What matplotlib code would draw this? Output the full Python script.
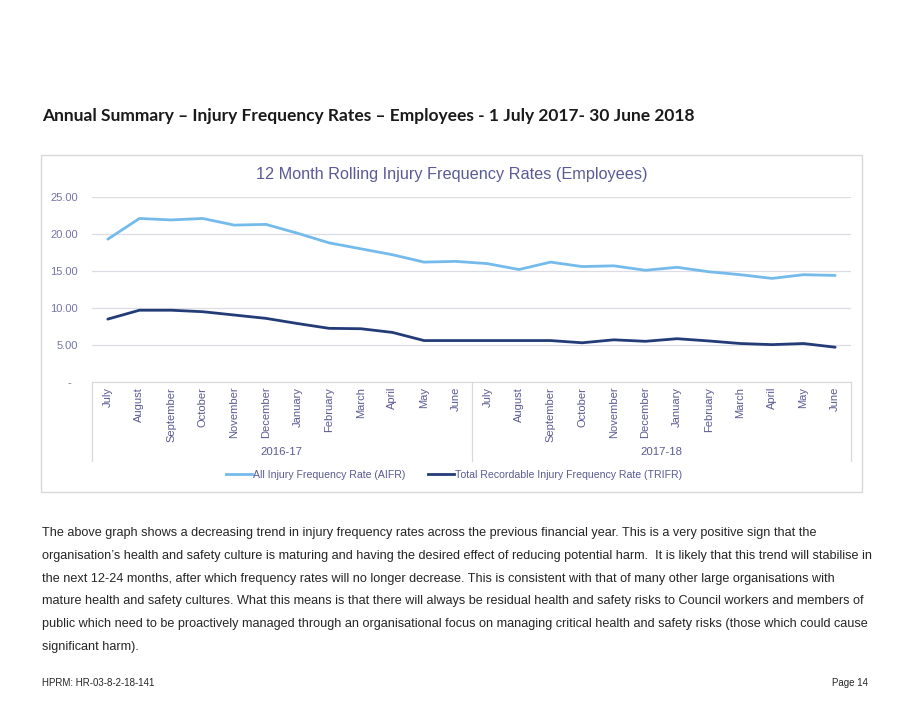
import matplotlib
matplotlib.use("Agg")
import matplotlib.pyplot as plt  # noqa: E402
import matplotlib.transforms as mtransforms  # noqa: E402
from matplotlib.lines import Line2D  # noqa: E402
from matplotlib.patches import Rectangle  # noqa: E402

# ---- data -----------------------------------------------------------------
month_names = ["July", "August", "September", "October", "November", "December",
               "January", "February", "March", "April", "May", "June"]
months = month_names * 2
years = ["2016-17", "2017-18"]
aifr = [19.3, 22.1, 21.9, 22.1, 21.2, 21.3, 20.1, 18.8, 18.0, 17.2, 16.2, 16.3,
        16.0, 15.2, 16.2, 15.6, 15.7, 15.1, 15.5, 14.9, 14.5, 14.0, 14.5, 14.4]
trifr = [8.5, 9.7, 9.7, 9.5, 9.05, 8.6, 7.9, 7.25, 7.2, 6.7, 5.6, 5.6,
         5.6, 5.6, 5.6, 5.3, 5.7, 5.5, 5.85, 5.55, 5.2, 5.05, 5.2, 4.7]
yticks = [0, 5, 10, 15, 20, 25]
ytick_labels = ["-  ", "5.00", "10.00", "15.00", "20.00", "25.00"]
series_labels = ["All Injury Frequency Rate (AIFR)",
                 "Total Recordable Injury Frequency Rate (TRIFR)"]

heading = "Annual Summary – Injury Frequency Rates – Employees - 1 July 2017- 30 June 2018"
chart_title = "12 Month Rolling Injury Frequency Rates (Employees)"
paragraph = [
    "The above graph shows a decreasing trend in injury frequency rates across the previous financial year. This is a very positive sign that the",
    "organisation\u2019s health and safety culture is maturing and having the desired effect of reducing potential harm.  It is likely that this trend will stabilise in",
    "the next 12-24 months, after which frequency rates will no longer decrease. This is consistent with that of many other large organisations with",
    "mature health and safety cultures. What this means is that there will always be residual health and safety risks to Council workers and members of",
    "public which need to be proactively managed through an organisational focus on managing critical health and safety risks (those which could cause",
    "significant harm).",
]
footer_left = "HPRM: HR-03-8-2-18-141"
footer_right = "Page 14"

# ---- style ----------------------------------------------------------------
plt.rcParams["font.family"] = ["Liberation Sans", "DejaVu Sans"]
C_AIFR = "#74BBEC"
C_TRIFR = "#233C78"
C_TXT = "#5A5A96"
C_TICK = "#7474A6"
C_GRID = "#DCDCE4"
C_BODY = "#262626"

W, H = 919, 711
fig = plt.figure(figsize=(W / 100, H / 100), dpi=100)
renderer = fig.canvas.get_renderer()


def fx(px):
    return px / W


def fy(py):
    return 1 - py / H


# page heading
fig.text(fx(42), fy(116), heading, fontsize=12.5, fontweight="bold",
         family=["Lato", "DejaVu Sans"], color="#1a1a1a", va="center", ha="left")

# chart frame
fig.patches.append(Rectangle((fx(41), fy(492)), fx(862) - fx(41), fy(155) - fy(492),
                             transform=fig.transFigure, fill=False,
                             edgecolor="#D9D9D9", linewidth=1.0))

fig.text(fx(452), fy(174), chart_title, fontsize=11.7, color=C_TXT,
         ha="center", va="center")

# plot area
left, right, top, bottom = 92, 851, 197, 382
ax = fig.add_axes([fx(left), fy(bottom), fx(right) - fx(left), fy(top) - fy(bottom)])
x = list(range(len(months)))
ax.plot(x, aifr, color=C_AIFR, linewidth=2.0, solid_capstyle="round")
ax.plot(x, trifr, color=C_TRIFR, linewidth=2.0, solid_capstyle="round")
ax.set_xlim(-0.5, len(months) - 0.5)
ax.set_ylim(0, 25)
ax.set_yticks(yticks)
ax.set_yticklabels(ytick_labels, fontsize=8, color=C_TICK)
ax.set_xticks(x)
ax.set_xticklabels(months, rotation=90, fontsize=8, color=C_TXT)
ax.tick_params(axis="y", length=0, pad=10)
ax.tick_params(axis="x", length=0, pad=3.5)
ax.grid(axis="y", color=C_GRID, linewidth=0.9)
ax.set_axisbelow(True)
for side in ["top", "left", "right"]:
    ax.spines[side].set_visible(False)
ax.spines["bottom"].set_color("#D9D9D9")

# two-level category axis: separators and year labels
trans = mtransforms.blended_transform_factory(ax.transData, ax.transAxes)
depth = (461 - bottom) / (bottom - top)
for xs in [-0.5, 11.5, 23.5]:
    ax.add_line(Line2D([xs, xs], [0, -depth], transform=trans, color="#D9D9D9",
                       linewidth=0.9, clip_on=False))
for i, yr in enumerate(years):
    ax.text(i * 12 + 5.5, -(452 - bottom) / (bottom - top), yr, transform=trans,
            fontsize=8.2, color=C_TXT, ha="center", va="center")

# legend
handles = [Line2D([], [], color=C_AIFR, linewidth=2.0),
           Line2D([], [], color=C_TRIFR, linewidth=2.0)]
fig.legend(handles, series_labels, loc="center", bbox_to_anchor=(fx(454), fy(475)),
           ncol=2, frameon=False, fontsize=7.6, labelcolor=C_TXT,
           handlelength=2.4, handletextpad=0.1, columnspacing=2.2)

# body text: size chosen so the first line spans the same width as the reference
probe = fig.text(0, 0, paragraph[0], fontsize=10)
probe_w = probe.get_window_extent(renderer).width
probe.remove()
body_size = 10 * (813 - 42) / probe_w
for i, line in enumerate(paragraph):
    fig.text(fx(42), fy(533 + i * 22.8), line, fontsize=body_size, color=C_BODY,
             ha="left", va="center")

fig.text(fx(42), fy(683), footer_left, fontsize=7, color=C_BODY, ha="left", va="center")
fig.text(fx(868), fy(683), footer_right, fontsize=7, color=C_BODY, ha="right", va="center")

fig.savefig("out.png", dpi=100, facecolor="white")
